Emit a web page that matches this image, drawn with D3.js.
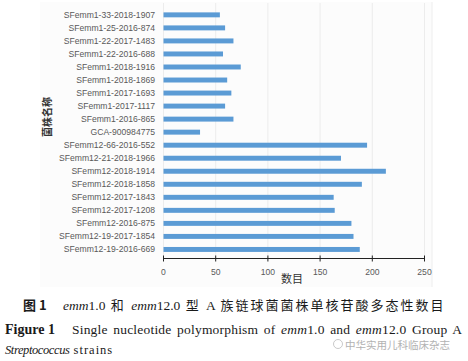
<!DOCTYPE html>
<html>
<head>
<meta charset="utf-8">
<script src="https://cdn.jsdelivr.net/npm/d3@7"></script>
<style>
body { margin: 0; background: #fff; }
svg { display: block; }
</style>
</head>
<body>
<div id="chart"></div>
<script>
var strains = ["SFemm1-33-2018-1907","SFemm1-25-2016-874","SFemm1-22-2017-1483","SFemm1-22-2016-688",
  "SFemm1-2018-1916","SFemm1-2018-1869","SFemm1-2017-1693","SFemm1-2017-1117","SFemm1-2016-865",
  "GCA-900984775","SFemm12-66-2016-552","SFemm12-21-2018-1966","SFemm12-2018-1914","SFemm12-2018-1858",
  "SFemm12-2017-1843","SFemm12-2017-1208","SFemm12-2016-875","SFemm12-19-2017-1854","SFemm12-19-2016-669"];
var snpCounts = [54,59,67,57,74,61,65,59,67,35,195,170,213,190,163,164,180,182,188];
var xTicks = [0,50,100,150,200,250];

var width = 468, height = 361;
var svg = d3.select("#chart").append("svg")
  .attr("width", width).attr("height", height);

// faint chart area
svg.append("rect").attr("x", 40).attr("y", 2).attr("width", 392).attr("height", 285)
  .attr("fill", "#fcfcfc");
svg.append("line").attr("x1", 432).attr("x2", 432).attr("y1", 2).attr("y2", 287)
  .attr("stroke", "#eeeeee");

var x = d3.scaleLinear().domain([0, 250]).range([163.5, 424.5]);
var y = d3.scaleBand().domain(strains).range([4.3, 260]).padding(0.62);

// gridlines
svg.append("g").selectAll("line").data(xTicks).enter().append("line")
  .attr("x1", function(d) { return x(d); }).attr("x2", function(d) { return x(d); })
  .attr("y1", 3).attr("y2", 258.5)
  .attr("stroke", "#ececec").attr("stroke-width", 1);

svg.append("g").selectAll("rect").data(snpCounts).enter().append("rect")
  .attr("x", x(0))
  .attr("y", function(d, i) { return y(strains[i]); })
  .attr("width", function(d) { return x(d) - x(0); })
  .attr("height", y.bandwidth())
  .attr("fill", "#5b9bd5");

// category labels
svg.append("g").selectAll("text").data(strains).enter().append("text")
  .attr("x", 155)
  .attr("y", function(d) { return y(d) + y.bandwidth() / 2; })
  .attr("dy", "0.35em")
  .attr("text-anchor", "end")
  .attr("font-family", "Liberation Sans, Arial, sans-serif")
  .attr("font-size", 8.6)
  .attr("fill", "#595959")
  .text(function(d) { return d; });

// x axis
var axis = svg.append("g").attr("transform", "translate(0,258.5)");
axis.append("line").attr("x1", x(0)).attr("x2", x(250)).attr("stroke", "#222").attr("stroke-width", 1.2);
axis.selectAll("line.t").data(xTicks).enter().append("line").attr("class", "t")
  .attr("x1", function(d) { return x(d); }).attr("x2", function(d) { return x(d); })
  .attr("y1", -3).attr("y2", 3).attr("stroke", "#222");
axis.selectAll("text").data(xTicks).enter().append("text")
  .attr("x", function(d) { return x(d); })
  .attr("y", 16)
  .attr("text-anchor", "middle")
  .attr("font-family", "Liberation Sans, Arial, sans-serif")
  .attr("font-size", 8.6)
  .attr("fill", "#595959")
  .text(function(d) { return d; });

svg.append("text").attr("x", 292).attr("y", 283)
  .attr("text-anchor", "middle")
  .attr("font-family", "Noto Sans CJK SC")
  .attr("font-size", 11).attr("fill", "#333")
  .text("数目");

svg.append("text")
  .attr("transform", "translate(51,117) rotate(-90)")
  .attr("text-anchor", "middle")
  .attr("font-family", "Noto Sans CJK SC")
  .attr("font-weight", "bold")
  .attr("font-size", 10).attr("fill", "#333")
  .text("菌株名称");

// caption
var serif = "Liberation Serif, serif";
var cjk = "Noto Sans CJK SC";
function line(x0, y0, size) {
  return svg.append("text").attr("x", x0).attr("y", y0)
    .attr("font-family", serif).attr("font-size", size).attr("fill", "#1a1a1a");
}
function span(t, txt, style) {
  var s = t.append("tspan").text(txt);
  if (style == "i") s.attr("font-style", "italic");
  if (style == "b") s.attr("font-weight", "bold");
  if (style == "c") s.attr("font-family", cjk).attr("font-size", 13).attr("letter-spacing", 2);
  return s;
}

var l0 = line(23, 310, 13);
l0.attr("font-family", cjk).attr("font-weight", "bold").text("图 1");

var l1 = line(63, 310, 13.5).attr("word-spacing", 2);
span(l1, "emm", "i"); span(l1, "1.0 ");
span(l1, "和", "c"); span(l1, " ");
span(l1, "emm", "i"); span(l1, "12.0 ");
span(l1, "型", "c"); span(l1, " A ");
span(l1, "族链球菌菌株单核苷酸多态性数目", "c");

var l2a = line(5, 334, 14).attr("font-weight", "bold").text("Figure 1");
var l2 = line(72, 334, 13.5).attr("word-spacing", 2).attr("letter-spacing", 0.2);
span(l2, "Single nucleotide polymorphism of ");
span(l2, "emm", "i"); span(l2, "1.0 and ");
span(l2, "emm", "i"); span(l2, "12.0 Group A");

var l3 = line(5, 354, 12.5);
span(l3, "Streptococcus", "i").attr("letter-spacing", -0.4);
span(l3, " strains").attr("letter-spacing", 1);

// watermark
svg.append("circle").attr("cx", 338).attr("cy", 344).attr("r", 4.5)
  .attr("fill", "none").attr("stroke", "#bbb").attr("stroke-width", 0.8);
svg.append("text").attr("x", 345).attr("y", 349)
  .attr("font-family", cjk).attr("font-size", 10.5)
  .attr("fill", "#aaa").attr("opacity", 0.9)
  .text("中华实用儿科临床杂志");
</script>
</body>
</html>
